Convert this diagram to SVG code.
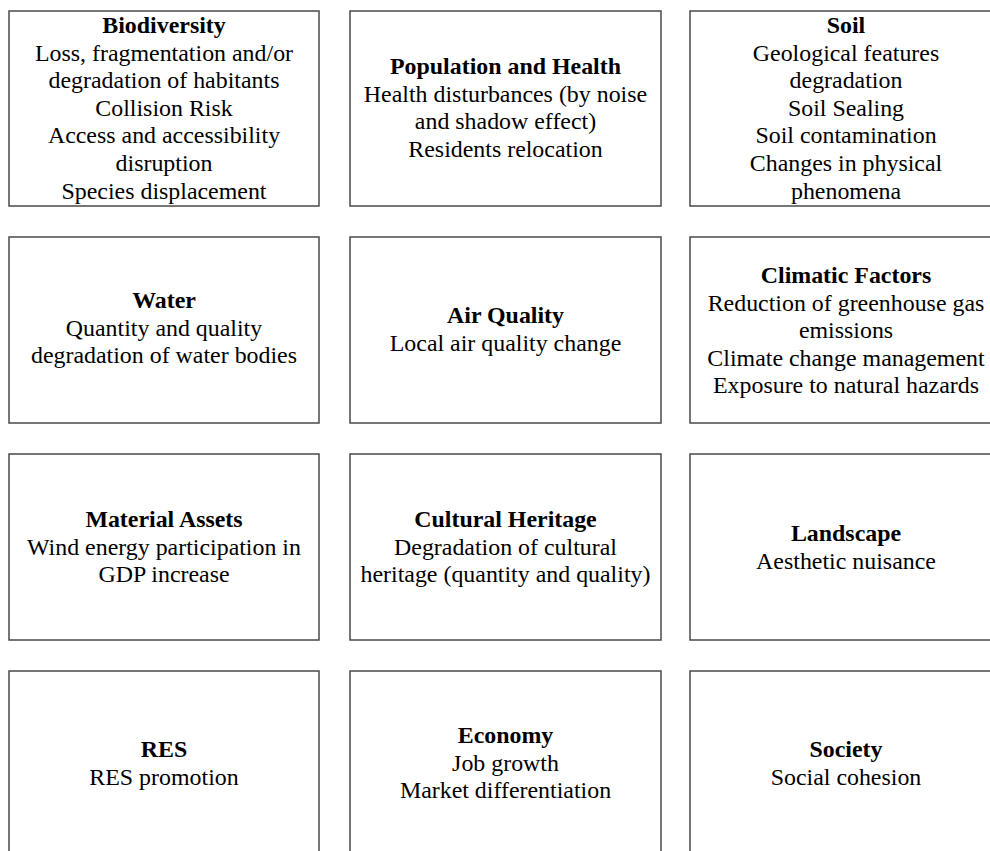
<svg xmlns="http://www.w3.org/2000/svg" width="990" height="851" viewBox="0 0 990 851">
<style>
.box{fill:#fff;stroke:#4a4a4a;stroke-width:1.5}
text{font-family:"Liberation Serif","Times New Roman",serif;font-size:23.9px;fill:#000;text-anchor:middle}
.t{font-weight:bold}
</style>
<rect width="990" height="851" fill="#fff"/>
<g id="biodiversity">
<rect class="box" x="9" y="11" width="310" height="195"/>
<text x="164" y="33"><tspan class="t">Biodiversity</tspan><tspan x="164" dy="27.6">Loss, fragmentation and/or</tspan><tspan x="164" dy="27.6">degradation of habitants</tspan><tspan x="164" dy="27.6">Collision Risk</tspan><tspan x="164" dy="27.6">Access and accessibility</tspan><tspan x="164" dy="27.6">disruption</tspan><tspan x="164" dy="27.6">Species displacement</tspan></text>
</g>
<g id="population">
<rect class="box" x="350" y="11" width="311" height="195"/>
<text x="505.5" y="74"><tspan class="t">Population and Health</tspan><tspan x="505.5" dy="27.6">Health disturbances (by noise</tspan><tspan x="505.5" dy="27.6">and shadow effect)</tspan><tspan x="505.5" dy="27.6">Residents relocation</tspan></text>
</g>
<g id="soil">
<rect class="box" x="690" y="11" width="311" height="195"/>
<text x="846" y="33"><tspan class="t">Soil</tspan><tspan x="846" dy="27.6">Geological features</tspan><tspan x="846" dy="27.6">degradation</tspan><tspan x="846" dy="27.6">Soil Sealing</tspan><tspan x="846" dy="27.6">Soil contamination</tspan><tspan x="846" dy="27.6">Changes in physical</tspan><tspan x="846" dy="27.6">phenomena</tspan></text>
</g>
<g id="water">
<rect class="box" x="9" y="237" width="310" height="186"/>
<text x="164" y="308"><tspan class="t">Water</tspan><tspan x="164" dy="27.6">Quantity and quality</tspan><tspan x="164" dy="27.6">degradation of water bodies</tspan></text>
</g>
<g id="air">
<rect class="box" x="350" y="237" width="311" height="186"/>
<text x="505.5" y="323"><tspan class="t">Air Quality</tspan><tspan x="505.5" dy="27.6">Local air quality change</tspan></text>
</g>
<g id="climatic">
<rect class="box" x="690" y="237" width="311" height="186"/>
<text x="846" y="283"><tspan class="t">Climatic Factors</tspan><tspan x="846" dy="27.6">Reduction of greenhouse gas</tspan><tspan x="846" dy="27.6">emissions</tspan><tspan x="846" dy="27.6">Climate change management</tspan><tspan x="846" dy="27.6">Exposure to natural hazards</tspan></text>
</g>
<g id="material">
<rect class="box" x="9" y="454" width="310" height="186"/>
<text x="164" y="527"><tspan class="t">Material Assets</tspan><tspan x="164" dy="27.6">Wind energy participation in</tspan><tspan x="164" dy="27.6">GDP increase</tspan></text>
</g>
<g id="cultural">
<rect class="box" x="350" y="454" width="311" height="186"/>
<text x="505.5" y="527"><tspan class="t">Cultural Heritage</tspan><tspan x="505.5" dy="27.6">Degradation of cultural</tspan><tspan x="505.5" dy="27.6">heritage (quantity and quality)</tspan></text>
</g>
<g id="landscape">
<rect class="box" x="690" y="454" width="311" height="186"/>
<text x="846" y="541"><tspan class="t">Landscape</tspan><tspan x="846" dy="27.6">Aesthetic nuisance</tspan></text>
</g>
<g id="res">
<rect class="box" x="9" y="671" width="310" height="190"/>
<text x="164" y="757"><tspan class="t">RES</tspan><tspan x="164" dy="27.6">RES promotion</tspan></text>
</g>
<g id="economy">
<rect class="box" x="350" y="671" width="311" height="190"/>
<text x="505.5" y="743"><tspan class="t">Economy</tspan><tspan x="505.5" dy="27.6">Job growth</tspan><tspan x="505.5" dy="27.6">Market differentiation</tspan></text>
</g>
<g id="society">
<rect class="box" x="690" y="671" width="311" height="190"/>
<text x="846" y="757"><tspan class="t">Society</tspan><tspan x="846" dy="27.6">Social cohesion</tspan></text>
</g>
<g id="connectors"/>
</svg>
